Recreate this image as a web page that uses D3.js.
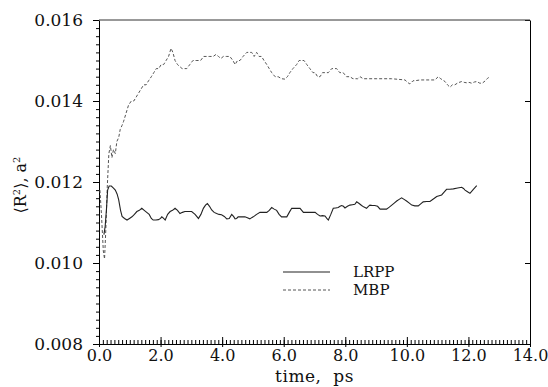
<!DOCTYPE html>
<html>
<head>
<meta charset="utf-8">
<script src="https://cdn.jsdelivr.net/npm/d3@7"></script>
<style>
  body { margin: 0; background: #fff; }
  text { font-family: "DejaVu Serif", "Liberation Serif", serif; fill: #111; }
</style>
</head>
<body>
<div id="chart"></div>
<script>
// MBP series (dashed)
const mbpTime = [0.03, 0.08, 0.14, 0.18, 0.22, 0.27, 0.32, 0.37, 0.42, 0.47, 0.53, 0.58, 0.64, 0.69, 0.75, 0.80, 0.88, 0.96,
    1.05, 1.13, 1.21, 1.29, 1.37, 1.45, 1.53, 1.61, 1.70, 1.78, 1.86, 1.94, 2.02, 2.10, 2.18, 2.26, 2.34, 2.40, 2.47, 2.55,
    2.70, 2.85, 2.95, 3.05, 3.18, 3.30, 3.40, 3.50, 3.60, 3.71, 3.80, 3.88, 3.96, 4.04, 4.15, 4.25, 4.35, 4.42, 4.50, 4.58,
    4.68, 4.80, 4.88, 4.96, 5.04, 5.12, 5.20, 5.28, 5.36, 5.45, 5.53, 5.61, 5.72, 5.82, 5.93, 6.04, 6.12, 6.20, 6.30, 6.42,
    6.50, 6.58, 6.66, 6.75, 6.85, 6.95, 7.02, 7.10, 7.18, 7.26, 7.34, 7.45, 7.56, 7.64, 7.72, 7.82, 7.93, 8.04, 8.15, 8.25,
    8.40, 8.48, 8.58, 9.00, 9.50, 9.94, 10.04, 10.10, 10.20, 10.26, 10.43, 10.60, 10.75, 10.91, 11.02, 11.10, 11.24, 11.32,
    11.40, 11.48, 11.56, 11.66, 11.78, 11.86, 11.94, 12.02, 12.10, 12.20, 12.27, 12.37, 12.45, 12.55, 12.62, 12.70];
const mbpValue = [0.0118, 0.0112, 0.0103, 0.0101, 0.0108, 0.0119, 0.0127, 0.0129, 0.0126, 0.0128, 0.0127, 0.0130, 0.0131, 0.0133, 0.0134, 0.0135, 0.0137, 0.0139,
    0.0140, 0.0140, 0.0141, 0.0142, 0.0143, 0.0144, 0.0144, 0.0145, 0.0146, 0.0147, 0.0148, 0.0148, 0.0149, 0.0149, 0.0150, 0.0151, 0.0153, 0.0152, 0.0150, 0.0149,
    0.0148, 0.0148, 0.0149, 0.0150, 0.0150, 0.0150, 0.0151, 0.0151, 0.0151, 0.0151, 0.01515, 0.0151, 0.01505, 0.0151, 0.0151, 0.0151, 0.0150, 0.0149, 0.0150, 0.0150,
    0.0151, 0.0152, 0.0152, 0.0152, 0.0151, 0.0152, 0.0151, 0.0151, 0.0150, 0.0149, 0.0148, 0.0147, 0.0146, 0.0146, 0.01455, 0.01454, 0.0146, 0.0147, 0.0148, 0.0149,
    0.0150, 0.0150, 0.0150, 0.0149, 0.0148, 0.0147, 0.0147, 0.0146, 0.0146, 0.0147, 0.0147, 0.0147, 0.0148, 0.0148, 0.0148, 0.0147, 0.0147, 0.0146, 0.0146, 0.01455,
    0.01455, 0.0146, 0.01455, 0.01455, 0.01455, 0.01452, 0.01445, 0.01442, 0.0145, 0.0145, 0.01452, 0.01452, 0.01452, 0.01452, 0.0146, 0.01455, 0.01448, 0.0144,
    0.01434, 0.0144, 0.0144, 0.01445, 0.01448, 0.01446, 0.01445, 0.01446, 0.01444, 0.01447, 0.01448, 0.01444, 0.01444, 0.0145, 0.01456, 0.0146];

// LRPP series (solid)
const lrppTime = [0.16, 0.20, 0.24, 0.28, 0.33, 0.40, 0.47, 0.53, 0.59, 0.64, 0.70, 0.75, 0.83, 0.91, 0.99, 1.07, 1.15, 1.23,
    1.31, 1.39, 1.47, 1.55, 1.63, 1.70, 1.76, 1.85, 1.93, 2.00, 2.04, 2.10, 2.15, 2.23, 2.31, 2.39, 2.47, 2.55, 2.63, 2.71,
    2.79, 2.90, 3.01, 3.12, 3.23, 3.31, 3.39, 3.46, 3.52, 3.59, 3.66, 3.74, 3.82, 3.90, 3.98, 4.07, 4.15, 4.23, 4.31, 4.37,
    4.42, 4.47, 4.52, 4.63, 4.74, 4.82, 4.90, 4.96, 5.01, 5.12, 5.23, 5.34, 5.45, 5.53, 5.61, 5.69, 5.77, 5.85, 5.93, 6.02,
    6.10, 6.18, 6.26, 6.40, 6.53, 6.64, 6.80, 6.95, 7.02, 7.10, 7.18, 7.26, 7.34, 7.40, 7.45, 7.53, 7.61, 7.69, 7.77, 7.83,
    7.88, 7.94, 7.99, 8.07, 8.15, 8.23, 8.31, 8.37, 8.45, 8.53, 8.61, 8.69, 8.75, 8.80, 8.88, 8.96, 9.05, 9.13, 9.24, 9.34,
    9.43, 9.51, 9.59, 9.67, 9.75, 9.83, 9.91, 9.99, 10.08, 10.16, 10.26, 10.37, 10.45, 10.53, 10.64, 10.75, 10.86, 10.97,
    11.05, 11.13, 11.21, 11.29, 11.40, 11.51, 11.65, 11.78, 11.84, 11.89, 11.97, 12.05, 12.16, 12.27];
const lrppValue = [0.0107, 0.0109, 0.0113, 0.0118, 0.0119, 0.0119, 0.01185, 0.0118, 0.0117, 0.01156, 0.0113, 0.01115, 0.0111, 0.01106, 0.0111, 0.01114, 0.0112, 0.01127,
    0.0113, 0.01135, 0.0113, 0.01125, 0.0112, 0.0111, 0.01106, 0.01106, 0.01107, 0.0111, 0.01114, 0.0111, 0.01106, 0.0112, 0.01127, 0.0113, 0.01135, 0.0113, 0.01122, 0.01125,
    0.01127, 0.01127, 0.01127, 0.0112, 0.0111, 0.0112, 0.01135, 0.01143, 0.01147, 0.0114, 0.01131, 0.01125, 0.01122, 0.0112, 0.01119, 0.01115, 0.01109, 0.0111, 0.0112, 0.01115,
    0.01109, 0.0111, 0.01114, 0.01114, 0.01114, 0.01112, 0.01109, 0.01112, 0.01114, 0.0112, 0.01125, 0.01125, 0.01125, 0.0113, 0.01137, 0.01133, 0.0113, 0.0112, 0.01114, 0.01114,
    0.01114, 0.01125, 0.01135, 0.01135, 0.01135, 0.01125, 0.01125, 0.01125, 0.01125, 0.0112, 0.01116, 0.01117, 0.01116, 0.0111, 0.01106, 0.0112, 0.01135, 0.01136, 0.01137, 0.0114,
    0.01142, 0.0114, 0.01136, 0.0114, 0.01143, 0.01144, 0.01145, 0.01151, 0.01147, 0.01142, 0.01138, 0.01135, 0.0114, 0.01143, 0.01142, 0.01142, 0.0114, 0.01133, 0.01133, 0.01133,
    0.01138, 0.01143, 0.01148, 0.01153, 0.01157, 0.01161, 0.01157, 0.01153, 0.01148, 0.01143, 0.01141, 0.01141, 0.01146, 0.01151, 0.01152, 0.01152, 0.01158, 0.01164,
    0.01166, 0.01168, 0.01175, 0.01182, 0.01182, 0.01183, 0.01185, 0.01187, 0.01184, 0.0118, 0.01176, 0.01172, 0.01182, 0.01191];

const xTicks = [0, 2, 4, 6, 8, 10, 12, 14];
const yTicks = [0.008, 0.010, 0.012, 0.014, 0.016];
const seriesNames = ["LRPP", "MBP"];

const width = 548;
const height = 387;
const margin = { top: 20, right: 18, bottom: 43, left: 99 };

const x = d3.scaleLinear().domain([0, 14]).range([margin.left, width - margin.right]);
const y = d3.scaleLinear().domain([0.008, 0.016]).range([height - margin.bottom, margin.top]);

const svg = d3.select("#chart").append("svg")
    .attr("width", width)
    .attr("height", height);

// minor tick positions
const xMinor = d3.range(0, 14.0001, 0.125);
const yMinor = d3.range(0.008, 0.01600001, 0.0002);

// x axis: minor ticks pointing up
svg.append("g")
    .attr("transform", `translate(0,${y(0.008)})`)
    .call(d3.axisBottom(x).tickValues(xMinor).tickSize(-4).tickFormat(""))
    .call(g => g.select(".domain").remove());

const xAxis = svg.append("g")
    .attr("transform", `translate(0,${y(0.008)})`)
    .call(d3.axisBottom(x).tickValues(xTicks).tickSizeInner(-7).tickSizeOuter(0).tickPadding(6).tickFormat(d3.format(".1f")));
xAxis.selectAll("text").style("font-size", "16px").style("font-family", "DejaVu Serif");
xAxis.selectAll("line").clone().attr("y2", 3);

// y axis: ticks pointing out
svg.append("g")
    .attr("transform", `translate(${x(0)},0)`)
    .call(d3.axisLeft(y).tickValues(yMinor).tickSize(3).tickFormat(""))
    .call(g => g.select(".domain").remove());

const yAxis = svg.append("g")
    .attr("transform", `translate(${x(0)},0)`)
    .call(d3.axisLeft(y).tickValues(yTicks).tickSizeInner(6).tickSizeOuter(0).tickPadding(10).tickFormat(d3.format(".3f")));
yAxis.selectAll("text").style("font-size", "17px").style("font-family", "DejaVu Serif");

// right side frame with small inward ticks
svg.append("g")
    .attr("transform", `translate(${x(14)},0)`)
    .call(d3.axisRight(y).tickValues(yTicks).tickSizeInner(-5).tickSizeOuter(0).tickFormat(""));

// top frame line
svg.append("line")
    .attr("x1", x(0)).attr("x2", x(14))
    .attr("y1", y(0.016)).attr("y2", y(0.016))
    .attr("stroke", "#333");

const line = d3.line()
    .x(d => x(d[0]))
    .y(d => y(d[1]));

const lrpp = lrppTime.map((t, i) => [t, lrppValue[i]]);
const mbp = mbpTime.map((t, i) => [t, mbpValue[i]]);

svg.append("path")
    .datum(mbp)
    .attr("fill", "none")
    .attr("stroke", "#555")
    .attr("stroke-width", 1)
    .attr("stroke-dasharray", "3,2")
    .attr("d", line);

svg.append("path")
    .datum(lrpp)
    .attr("fill", "none")
    .attr("stroke", "#222")
    .attr("stroke-width", 1.1)
    .attr("d", line);

// axis titles
svg.append("text")
    .attr("x", (x(0) + x(14)) / 2)
    .attr("y", 382)
    .attr("text-anchor", "middle")
    .style("font-size", "17px")
    .style("letter-spacing", "0.5px")
    .text("time,  ps")
    .attr("xml:space", "preserve");

const yTitle = svg.append("text")
    .attr("transform", `translate(26,${(y(0.008) + y(0.016)) / 2 + 3}) rotate(-90)`)
    .attr("text-anchor", "middle")
    .style("font-size", "16px");
yTitle.append("tspan").text("\u27E8R");
yTitle.append("tspan").attr("dy", -6).style("font-size", "10px").text("2");
yTitle.append("tspan").attr("dy", 6).text("\u27E9, a");
yTitle.append("tspan").attr("dy", -6).style("font-size", "10px").text("2");

// legend
const legend = svg.append("g").attr("transform", "translate(283,272)");
const legendItems = legend.selectAll(".legend-item")
    .data(seriesNames)
    .enter().append("g")
    .attr("class", "legend-item")
    .attr("transform", (d, i) => `translate(0,${i * 18})`);

legendItems.append("line")
    .attr("x1", 0).attr("x2", 47)
    .attr("y1", 0).attr("y2", 0)
    .attr("stroke", (d, i) => i === 0 ? "#222" : "#555")
    .attr("stroke-width", (d, i) => i === 0 ? 1.1 : 1)
    .attr("stroke-dasharray", (d, i) => i === 0 ? null : "3,2");

legendItems.append("text")
    .attr("x", 70)
    .attr("y", 0)
    .attr("dy", ".35em")
    .style("font-size", "15px")
    .text(d => d);
</script>
</body>
</html>
